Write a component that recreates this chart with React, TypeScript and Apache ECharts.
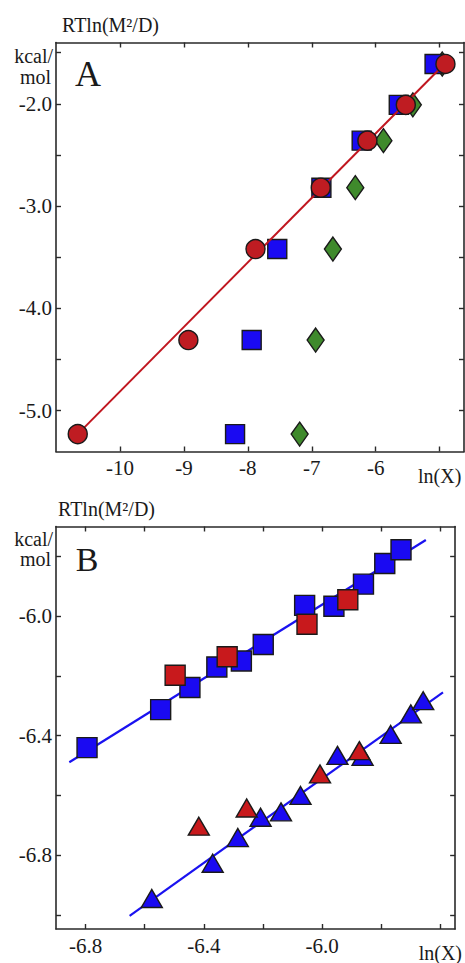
import React, { useEffect, useRef } from "react";
import * as echarts from "echarts";

// ---------- Panel A data ----------
const A_energy = [-5.23, -4.31, -3.42, -2.82, -2.36, -2.01, -1.61];
const A_circleX = [-10.66, -8.93, -7.88, -6.86, -6.13, -5.53, -4.91];
const A_squareX = [-8.2, -7.94, -7.54, -6.85, -6.22, -5.64, -5.08];
const A_diamondX = [-7.19, -6.94, -6.67, -6.32, -5.88, -5.42, -4.96];
const A_fitX = [-10.66, -4.91];
const A_fitY = [-5.23, -1.6];
const A_xTicks = [-10, -9, -8, -7, -6, -5];
const A_yTicks = [-5.0, -4.5, -4.0, -3.5, -3.0, -2.5, -2.0, -1.5];
const A_yLabels = [-5.0, -4.0, -3.0, -2.0];

// ---------- Panel B data ----------
const B_sqBlueX = [-6.795, -6.546, -6.447, -6.356, -6.273, -6.199, -6.059, -5.96, -5.86, -5.788, -5.733];
const B_sqBlueY = [-6.44, -6.313, -6.239, -6.17, -6.15, -6.095, -5.964, -5.967, -5.893, -5.824, -5.778];
const B_sqRedX = [-6.497, -6.321, -6.051, -5.913];
const B_sqRedY = [-6.198, -6.136, -6.027, -5.945];
const B_triBlueX = [-6.576, -6.37, -6.285, -6.208, -6.139, -6.073, -5.948, -5.863, -5.768, -5.7, -5.658];
const B_triBlueY = [-6.945, -6.827, -6.741, -6.673, -6.655, -6.6, -6.466, -6.469, -6.396, -6.327, -6.283];
const B_triRedX = [-6.417, -6.255, -6.007, -5.874];
const B_triRedY = [-6.703, -6.642, -6.528, -6.45];
const B_fit1X = [-6.855, -5.649];
const B_fit1Y = [-6.489, -5.745];
const B_fit2X = [-6.651, -5.591];
const B_fit2Y = [-7.003, -6.255];
const B_xTicks = [-6.8, -6.6, -6.4, -6.2, -6.0, -5.8, -5.6];
const B_xLabels = [-6.8, -6.4, -6.0, -5.6];
const B_yTicks = [-7.0, -6.8, -6.6, -6.4, -6.2, -6.0, -5.8];
const B_yLabels = [-6.8, -6.4, -6.0];

const FONT = "'Liberation Serif', serif";
const AXIS_COLOR = "#2a2a2a";
const TEXT_COLOR = "#1a1a1a";

const zip = (xs: number[], ys: number[]) => xs.map((x, i) => [x, ys[i]]);

export default function App() {
  const ref = useRef<HTMLDivElement>(null);

  useEffect(() => {
    if (!ref.current) return;
    const chart = echarts.init(ref.current, undefined, { renderer: "svg" });

    const axisLine = { show: true, onZero: false, lineStyle: { color: AXIS_COLOR, width: 1.6 } };
    const xLabelBase = {
      fontSize: 21,
      fontFamily: FONT,
      color: TEXT_COLOR,
      margin: 6,
      rich: { s: { fontSize: 20, fontFamily: FONT, color: TEXT_COLOR, padding: [8, 0, 0, 0] } },
    };
    const yLabelBase = { fontSize: 21, fontFamily: FONT, color: TEXT_COLOR, margin: 4 };
    const tick = (vals: number[]) => ({
      show: true,
      inside: true,
      length: 5,
      customValues: vals,
      lineStyle: { color: AXIS_COLOR, width: 1.4 },
    });

    const markerBorder = { borderColor: "#1a1a1a", borderWidth: 1.4, opacity: 1 };

    const textEl = (text: string, x: number, y: number, size: number, align: string) => ({
      type: "text",
      x,
      y,
      style: {
        text,
        fontSize: size,
        fontFamily: FONT,
        fill: TEXT_COLOR,
        textAlign: align,
        textVerticalAlign: "middle",
      },
    });

    chart.setOption({
      animation: false,
      backgroundColor: "#ffffff",
      textStyle: { fontFamily: FONT },
      grid: [
        { left: 56, top: 42.5, width: 408, height: 409 },
        { left: 56, top: 526.5, width: 408, height: 406.5 },
      ],
      xAxis: [
        {
          type: "value",
          gridIndex: 0,
          position: "bottom",
          min: -11,
          max: -4.62,
          axisLine,
          axisTick: tick(A_xTicks),
          axisLabel: {
            ...xLabelBase,
            customValues: A_xTicks,
            formatter: (v: number) => (Math.abs(v + 5) < 1e-6 ? "{s|ln(X)}" : String(Math.round(v))),
          },
          splitLine: { show: false },
        },
        {
          type: "value",
          gridIndex: 0,
          position: "top",
          min: -11,
          max: -4.62,
          axisLine,
          axisTick: tick(A_xTicks),
          axisLabel: { show: false },
          splitLine: { show: false },
        },
        {
          type: "value",
          gridIndex: 1,
          position: "bottom",
          min: -6.9,
          max: -5.55,
          axisLine,
          axisTick: tick(B_xTicks),
          axisLabel: {
            ...xLabelBase,
            customValues: B_xLabels,
            formatter: (v: number) => (Math.abs(v + 5.6) < 1e-6 ? "{s|ln(X)}" : v.toFixed(1)),
          },
          splitLine: { show: false },
        },
        {
          type: "value",
          gridIndex: 1,
          position: "top",
          min: -6.9,
          max: -5.55,
          axisLine,
          axisTick: tick(B_xTicks),
          axisLabel: { show: false },
          splitLine: { show: false },
        },
      ],
      yAxis: [
        {
          type: "value",
          gridIndex: 0,
          position: "left",
          min: -5.4,
          max: -1.4,
          axisLine,
          axisTick: tick(A_yTicks),
          axisLabel: { ...yLabelBase, customValues: A_yLabels, formatter: (v: number) => v.toFixed(1) },
          splitLine: { show: false },
        },
        {
          type: "value",
          gridIndex: 0,
          position: "right",
          min: -5.4,
          max: -1.4,
          axisLine,
          axisTick: tick(A_yTicks),
          axisLabel: { show: false },
          splitLine: { show: false },
        },
        {
          type: "value",
          gridIndex: 1,
          position: "left",
          min: -7.047,
          max: -5.7,
          axisLine,
          axisTick: tick(B_yTicks),
          axisLabel: { ...yLabelBase, customValues: B_yLabels, formatter: (v: number) => v.toFixed(1) },
          splitLine: { show: false },
        },
        {
          type: "value",
          gridIndex: 1,
          position: "right",
          min: -7.047,
          max: -5.7,
          axisLine,
          axisTick: tick(B_yTicks),
          axisLabel: { show: false },
          splitLine: { show: false },
        },
      ],
      series: [
        // Panel A
        {
          type: "scatter",
          xAxisIndex: 0,
          yAxisIndex: 0,
          symbol: "diamond",
          symbolSize: [17, 24],
          itemStyle: { color: "#3f8a2c", ...markerBorder },
          data: zip(A_diamondX, A_energy),
          z: 2,
        },
        {
          type: "scatter",
          xAxisIndex: 0,
          yAxisIndex: 0,
          symbol: "rect",
          symbolSize: 19,
          itemStyle: { color: "#1a0af2", ...markerBorder },
          data: zip(A_squareX, A_energy),
          z: 3,
        },
        {
          type: "line",
          xAxisIndex: 0,
          yAxisIndex: 0,
          symbol: "none",
          lineStyle: { color: "#c0161f", width: 2 },
          data: zip(A_fitX, A_fitY),
          z: 4,
        },
        {
          type: "scatter",
          xAxisIndex: 0,
          yAxisIndex: 0,
          symbol: "circle",
          symbolSize: 19,
          itemStyle: { color: "#bf1c22", ...markerBorder },
          data: zip(A_circleX, A_energy),
          z: 5,
        },
        // Panel B
        {
          type: "line",
          xAxisIndex: 2,
          yAxisIndex: 2,
          symbol: "none",
          lineStyle: { color: "#1a12f0", width: 2.2 },
          data: zip(B_fit1X, B_fit1Y),
          z: 2,
        },
        {
          type: "line",
          xAxisIndex: 2,
          yAxisIndex: 2,
          symbol: "none",
          lineStyle: { color: "#1a12f0", width: 2.2 },
          data: zip(B_fit2X, B_fit2Y),
          z: 2,
        },
        {
          type: "scatter",
          xAxisIndex: 2,
          yAxisIndex: 2,
          symbol: "rect",
          symbolSize: 20,
          itemStyle: { color: "#1a0af2", ...markerBorder },
          data: zip(B_sqBlueX, B_sqBlueY),
          z: 3,
        },
        {
          type: "scatter",
          xAxisIndex: 2,
          yAxisIndex: 2,
          symbol: "triangle",
          symbolSize: [21, 18],
          itemStyle: { color: "#1a0af2", ...markerBorder },
          data: zip(B_triBlueX, B_triBlueY),
          z: 3,
        },
        {
          type: "scatter",
          xAxisIndex: 2,
          yAxisIndex: 2,
          symbol: "rect",
          symbolSize: 20,
          itemStyle: { color: "#c8191c", ...markerBorder },
          data: zip(B_sqRedX, B_sqRedY),
          z: 4,
        },
        {
          type: "scatter",
          xAxisIndex: 2,
          yAxisIndex: 2,
          symbol: "triangle",
          symbolSize: [21, 18],
          itemStyle: { color: "#c8191c", ...markerBorder },
          data: zip(B_triRedX, B_triRedY),
          z: 4,
        },
      ],
      graphic: [
        textEl("RTln(M²/D)", 62, 25, 20, "left"),
        textEl("kcal/", 53, 56, 20, "right"),
        textEl("mol", 51, 77, 20, "right"),
        textEl("A", 88, 74, 36, "center"),
        textEl("RTln(M²/D)", 58, 509, 20, "left"),
        textEl("kcal/", 53, 539, 20, "right"),
        textEl("mol", 51, 559, 20, "right"),
        textEl("B", 87, 559, 34, "center"),
      ],
    });

    return () => chart.dispose();
  }, []);

  return (
    <div
      ref={ref}
      style={{ position: "absolute", left: 0, top: 0, width: 465, height: 963, background: "#fff" }}
    />
  );
}
